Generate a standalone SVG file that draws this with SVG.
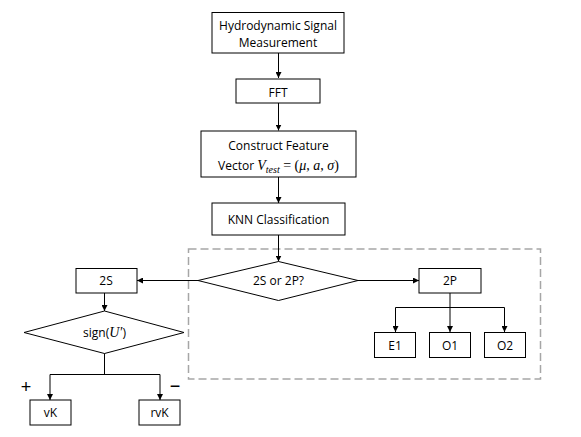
<svg xmlns="http://www.w3.org/2000/svg" width="581" height="437" viewBox="0 0 581 437">
<defs>
<marker id="ah" markerWidth="6" markerHeight="6" refX="6" refY="3" orient="auto" markerUnits="userSpaceOnUse">
<path d="M0,0 L6,3 L0,6 Z" fill="#000"/>
</marker>
<style>
.box{fill:#fff;stroke:#000;stroke-width:1}
.t{font-family:"Open Sans","Liberation Sans",sans-serif;font-size:12px;fill:#000;text-anchor:middle}
.m{font-family:"Liberation Serif",serif;font-style:italic}
.c{fill:none;stroke:#000;stroke-width:1}
.a{fill:none;stroke:#000;stroke-width:1;marker-end:url(#ah)}
</style>
</defs>
<rect x="188.5" y="249" width="352" height="130" fill="none" stroke="#a6a6a6" stroke-width="1.5" stroke-dasharray="8,4"/>
<g id="connectors">
<path class="a" d="M278.5,53 V78"/>
<path class="a" d="M278.5,103 V130.5"/>
<path class="a" d="M278.5,177 V203"/>
<path class="a" d="M278.5,235 V261.5"/>
<path class="a" d="M358,280.5 H419"/>
<path class="a" d="M198,280.5 H137"/>
<path class="c" d="M450,293 V307.5"/>
<path class="c" d="M395.5,307.5 H504.5"/>
<path class="a" d="M395.5,307.5 V332"/>
<path class="a" d="M450,307.5 V332"/>
<path class="a" d="M504.5,307.5 V332"/>
<path class="a" d="M104.5,293 V311"/>
<path class="c" d="M104.5,353 V374.5"/>
<path class="c" d="M50,374.5 H160"/>
<path class="a" d="M50,374.5 V400"/>
<path class="a" d="M160,374.5 V400"/>
</g>
<g id="n_hydro"><rect class="box" x="212" y="12.5" width="132" height="40.5"/><text class="t" x="278" y="29.5">Hydrodynamic Signal</text><text class="t" x="278" y="47">Measurement</text></g>
<g id="n_fft"><rect class="box" x="236" y="79" width="84" height="24"/><text class="t" x="278" y="97">FFT</text></g>
<g id="n_feature"><rect class="box" x="201" y="131" width="155" height="46"/><text class="t" x="278.5" y="150">Construct Feature</text><text class="t" x="278.5" y="170">Vector <tspan class="m" font-size="14">V</tspan><tspan class="m" font-size="10" dy="3">test</tspan><tspan dy="-3" font-family="Liberation Serif" font-size="14"> = (</tspan><tspan class="m" font-size="14">μ</tspan><tspan font-family="Liberation Serif" font-size="14">, </tspan><tspan class="m" font-size="14">a</tspan><tspan font-family="Liberation Serif" font-size="14">, </tspan><tspan class="m" font-size="14">σ</tspan><tspan font-family="Liberation Serif" font-size="14">)</tspan></text></g>
<g id="n_knn"><rect class="box" x="212" y="203" width="133" height="32"/><text class="t" x="278.5" y="223.5">KNN Classification</text></g>
<g id="n_decision"><polygon class="box" points="278.5,261.5 358,280.5 278.5,300.5 198,280.5"/><text class="t" x="278.5" y="285">2S or 2P?</text></g>
<g id="n_2p"><rect class="box" x="419" y="268.5" width="62" height="24.5"/><text class="t" x="450" y="285">2P</text></g>
<g id="n_e1"><rect class="box" x="374.5" y="332.5" width="41" height="25"/><text class="t" x="395" y="349.5">E1</text></g>
<g id="n_o1"><rect class="box" x="429.5" y="332.5" width="41" height="25"/><text class="t" x="450" y="349.5">O1</text></g>
<g id="n_o2"><rect class="box" x="484.5" y="332.5" width="41" height="25"/><text class="t" x="505" y="349.5">O2</text></g>
<g id="n_2s"><rect class="box" x="76" y="268.5" width="61" height="24.5"/><text class="t" x="106" y="285">2S</text></g>
<g id="n_sign"><polygon class="box" points="104.5,311 184,332.5 104.5,353.5 24,332.5"/><text class="t" x="104.5" y="337">sign(<tspan class="m" font-size="14">U′</tspan>)</text></g>
<g id="n_vk"><rect class="box" x="30" y="400" width="41" height="25"/><text class="t" x="50.5" y="417">vK</text></g>
<g id="n_rvk"><rect class="box" x="139" y="400" width="41" height="25"/><text class="t" x="159.5" y="417">rvK</text></g>
<text x="26" y="393" font-family="Liberation Sans,sans-serif" font-size="18" text-anchor="middle">+</text>
<text x="175" y="392" font-family="Liberation Sans,sans-serif" font-size="18" text-anchor="middle">−</text>
</svg>
